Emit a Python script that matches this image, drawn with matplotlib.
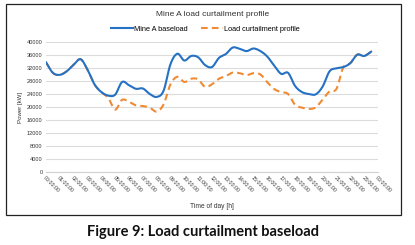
import numpy as np
import matplotlib.pyplot as plt
from matplotlib.patches import Rectangle

# half-hourly readings, 00:00 .. 23:30
hours = np.arange(0, 24, 0.5)
baseload = [33750, 30500, 29900, 31000, 33000, 34700, 31500, 27000, 24600, 23500,
            23800, 27700, 26700, 25600, 25700, 24000, 23100, 25000, 33200, 36400,
            34300, 35700, 35300, 32900, 32300, 35100, 36300, 38300, 37900, 37200,
            38000, 37200, 35500, 32700, 30200, 30500, 26500, 24600, 24000, 23900,
            26300, 31000, 31900, 32300, 33500, 36100, 35700, 37000]
curtailed = [33750, 30500, 29900, 31000, 33000, 34700, 31500, 27000, 24600, 22800,
             19200, 22200, 21600, 20500, 20300, 19800, 18600, 20800, 27000, 29300,
             27700, 28700, 28500, 26200, 27000, 28700, 29500, 30600, 30400, 29800,
             30400, 30000, 27600, 25500, 24600, 24000, 20700, 19800, 19400, 19900,
             22300, 24800, 25600, 32300, 33500, 36100, 35700, 37000]
tick_labels = ['%02d:00:00' % (h % 24) for h in range(25)]
y_ticks = list(range(0, 40001, 4000))


def smooth(x, y, n=12):
    # catmull-rom, roughly what excel does with "smoothed line"
    x = np.asarray(x, float)
    y = np.asarray(y, float)
    px = np.concatenate([[2 * x[0] - x[1]], x, [2 * x[-1] - x[-2]]])
    py = np.concatenate([[2 * y[0] - y[1]], y, [2 * y[-1] - y[-2]]])
    t = np.linspace(0, 1, n, endpoint=False)
    xs, ys = [], []
    for i in range(1, len(px) - 2):
        for p, out in ((px, xs), (py, ys)):
            p0, p1, p2, p3 = p[i - 1], p[i], p[i + 1], p[i + 2]
            out.extend(0.5 * (2 * p1 + (-p0 + p2) * t
                              + (2 * p0 - 5 * p1 + 4 * p2 - p3) * t ** 2
                              + (-p0 + 3 * p1 - 3 * p2 + p3) * t ** 3))
    xs.append(x[-1])
    ys.append(y[-1])
    return xs, ys


fig = plt.figure(figsize=(4.15, 2.45), dpi=100)
fig.patches.append(Rectangle((6 / 415, 1 - 215 / 245), 395 / 415, 211 / 245,
                             transform=fig.transFigure, fill=False,
                             edgecolor='#222222', linewidth=0.9))

ax = fig.add_axes([46 / 415, 1 - 172 / 245, 332 / 415, 130 / 245])

bx, by = smooth(hours, baseload)
cx, cy = smooth(hours, curtailed)
ax.plot(bx, by, color='#2571c4', lw=1.5, label='Mine A baseload', zorder=3)
ax.plot(cx, cy, color='#f08a33', lw=1.5, dashes=(3.2, 2.0),
        label='Load curtailment profile', zorder=2)

ax.set_xlim(0, 24)
ax.set_ylim(0, 40000)
ax.set_yticks(y_ticks)
ax.set_yticklabels([str(v) for v in y_ticks], fontsize=4.1, color='#333333',
                   family='Liberation Sans')
ax.set_xticks(range(25))
ax.set_xticklabels(tick_labels, rotation=-45, ha='left', va='top',
                   rotation_mode='anchor', fontsize=3.8, color='#333333',
                   family='Liberation Sans')
ax.tick_params(length=0, pad=2.5)
ax.grid(axis='y', color='#dcdcdc', lw=0.8)
ax.set_axisbelow(True)
for s in ['top', 'right', 'left']:
    ax.spines[s].set_visible(False)
ax.spines['bottom'].set_color('#d0d0d0')
ax.spines['bottom'].set_linewidth(0.8)

ax.set_ylabel('Power [kW]', fontsize=4.4, color='#333333', family='Liberation Sans',
              labelpad=3)
ax.set_xlabel('Time of day [h]', fontsize=4.8, color='#333333', family='Liberation Sans',
              labelpad=1)
ax.xaxis.set_label_coords(0.5, -0.24)

fig.text(0.513, 1 - 14 / 245, 'Mine A load curtailment profile', ha='center', va='center',
         fontsize=6.0, color='#333333', family='Liberation Sans')
ax.legend(loc='center', bbox_to_anchor=(0.48, 1.1), ncol=2, frameon=False,
          prop={'family': 'Liberation Sans', 'size': 5.3}, handlelength=3.0,
          handletextpad=0.1, columnspacing=1.8)

fig.text(0.49, 1 - 232 / 245, 'Figure 9: Load curtailment baseload', ha='center',
         va='center', fontsize=10.5, fontweight='bold', color='#111111', family='Lato')

fig.savefig('out.png', dpi=100)
